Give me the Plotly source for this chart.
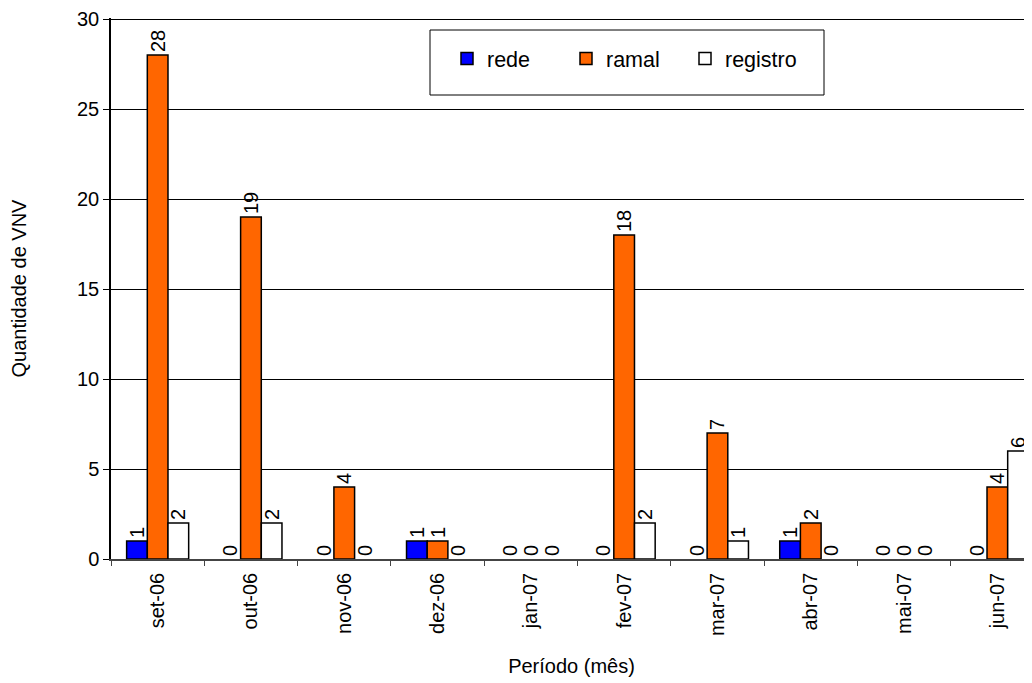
import plotly.graph_objects as go

categories = ["set-06", "out-06", "nov-06", "dez-06", "jan-07", "fev-07", "mar-07", "abr-07", "mai-07", "jun-07"]
rede = [1, 0, 0, 1, 0, 0, 0, 1, 0, 0]
ramal = [28, 19, 4, 1, 0, 18, 7, 2, 0, 4]
registro = [2, 2, 0, 0, 0, 2, 1, 0, 0, 6]
y_ticks = [0, 5, 10, 15, 20, 25, 30]

FONT = "Liberation Sans, Arial, sans-serif"
FS = 20

fig = go.Figure()
for name, vals, color in [("rede", rede, "#0000FF"), ("ramal", ramal, "#FF6600"), ("registro", registro, "#FFFFFF")]:
    fig.add_trace(go.Bar(
        name=name, x=categories, y=vals,
        marker=dict(color=color, line=dict(color="black", width=[1.5 if v else 0 for v in vals])),
        text=[str(v) for v in vals], textposition="outside", textangle=-90,
        textfont=dict(family=FONT, size=FS, color="black"),
        constraintext="none", cliponaxis=False,
    ))

# page body has an 8px margin, so the figure is offset by 8px
OFF = 8
W, H = 1032 - OFF, 683 - OFF
L, T = 111 - OFF, 18 - OFF
bottom = 559 - OFF
B = H - bottom
plot_w = W - L
plot_h = H - T - B
cat_w = 93.3
xmax = -0.5 + plot_w / cat_w

def px(x):
    return (x - OFF - L) / plot_w

def py(y):
    return (bottom - (y - OFF)) / plot_h

fig.update_layout(
    width=W, height=H,
    margin=dict(l=L, r=0, t=T, b=B, pad=0, autoexpand=False),
    paper_bgcolor="white", plot_bgcolor="white",
    barmode="group", bargap=0.335, bargroupgap=0,
    font=dict(family=FONT, size=FS, color="black"),
    showlegend=True,
    legend=dict(orientation="h", x=px(447), y=py(38), xanchor="left", yanchor="top",
                bgcolor="rgba(0,0,0,0)", borderwidth=0,
                font=dict(family=FONT, size=21.5), itemwidth=30, entrywidth=74, entrywidthmode="pixels",
                traceorder="normal"),
    shapes=[dict(type="rect", xref="paper", yref="paper",
                 x0=px(430), x1=px(824), y0=py(95), y1=py(30),
                 line=dict(color="black", width=1), fillcolor="rgba(0,0,0,0)", layer="above")],
    xaxis=dict(range=[-0.5, xmax], showgrid=False, ticks="outside", tickson="boundaries", automargin=False,
               ticklen=5, tickcolor="#444", tickangle=-90, showline=True, linecolor="#444", linewidth=1.5,
               tickfont=dict(family=FONT, size=FS), ticklabelstandoff=4, ticklabeloverflow="allow",
               title=dict(text="Período (mês)", font=dict(family=FONT, size=FS), standoff=24)),
    yaxis=dict(range=[0, 30.06], tickvals=y_ticks, showgrid=True, gridcolor="black", gridwidth=1, automargin=False,
               ticks="outside", ticklen=6, tickcolor="black", showline=True, linecolor="black", linewidth=1.5,
               zeroline=False, tickfont=dict(family=FONT, size=FS), ticklabeloverflow="allow",
               title=dict(text="Quantidade de VNV", font=dict(family=FONT, size=FS), standoff=46)),
)

fig.write_html("out.html")
